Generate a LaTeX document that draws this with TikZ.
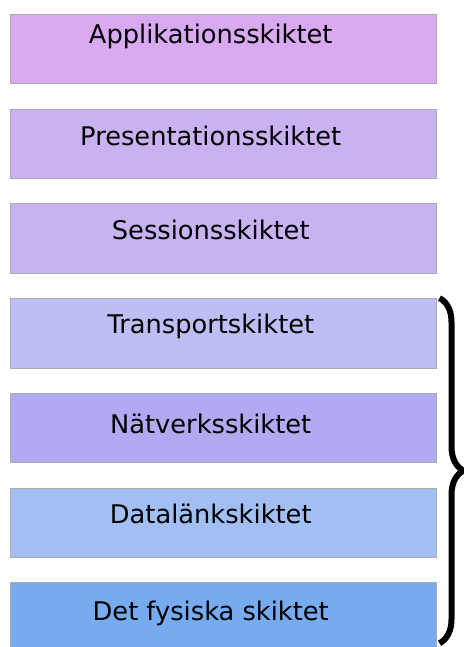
\documentclass[tikz,border=0pt]{standalone}
\usepackage{fontspec}
\setmainfont{DejaVu Sans}
\usetikzlibrary{positioning,decorations.pathreplacing}

\definecolor{appcol}{HTML}{D9AAF2}
\definecolor{prescol}{HTML}{C8B2F2}
\definecolor{sesscol}{HTML}{C7B3F1}
\definecolor{transcol}{HTML}{BDBEF5}
\definecolor{netcol}{HTML}{AFAAF2}
\definecolor{linkcol}{HTML}{A2BFF3}
\definecolor{physcol}{HTML}{76ABF0}

\begin{document}
\begin{tikzpicture}[node distance=24.2pt,
  text height=18pt,text depth=16pt,
  font=\fontsize{25.7}{30}\selectfont,
  layerbox/.style={
    rectangle,
    draw=gray!65,
    line width=1pt,
    minimum width=426.5pt,
    minimum height=69.5pt,
    inner sep=0pt,
    execute at end node=\hspace*{25pt},
  }]
\useasboundingbox (0,0) rectangle (463pt,-647pt);
\node[layerbox,fill=appcol,anchor=north west,text depth=29.4pt] (application) at (9.5pt,-14pt) {Applikationsskiktet};
\node[layerbox,fill=prescol,text depth=14.6pt] (presentation) [below=of application] {Presentationsskiktet};
\node[layerbox,fill=sesscol,text depth=16.8pt] (session) [below=of presentation] {Sessionsskiktet};
\node[layerbox,fill=transcol,text depth=18pt] (transport) [below=of session] {Transportskiktet};
\node[layerbox,fill=netcol,text depth=8pt] (network) [below=of transport] {Nätverksskiktet};
\node[layerbox,fill=linkcol] (datalink) [below=of network] {Datalänkskiktet};
\node[layerbox,fill=physcol,minimum height=90pt,text depth=32pt] (physical) [below=of datalink] {Det fysiska skiktet};
\draw[line width=6pt,decorate,decoration={brace,amplitude=24pt}]
  ([xshift=2.5pt]transport.north east) -- ([xshift=2.5pt,yshift=30pt]physical.south east);
\end{tikzpicture}
\end{document}
